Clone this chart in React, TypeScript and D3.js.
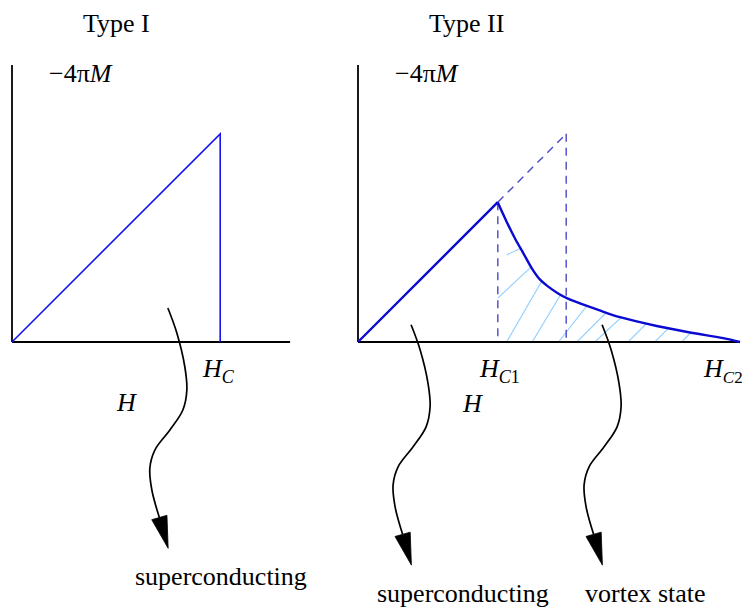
import React from "react";
import * as d3 from "d3";

// ---- data (units: field H and -4πM on the same scale) ----
const Hc = 0.545; // thermodynamic critical field (Type I and Type II)
const Hc1 = 0.366;
const Hc2 = 1.0;
const axisMaxH_I = 0.728;
const axisMaxM = 0.725;

// Type II magnetization curve in mixed (vortex) state
const vortexH = [0.366, 0.389, 0.411, 0.433, 0.455, 0.476, 0.498, 0.524, 0.548, 0.581, 0.629, 0.686, 0.782, 0.869, 0.956, 1.0];
const vortexM = [0.365, 0.315, 0.271, 0.232, 0.193, 0.164, 0.145, 0.127, 0.114, 0.101, 0.084, 0.065, 0.042, 0.025, 0.01, 0.0];

// hatch strokes: start (H, M) and angle in degrees
const hatchH = [0.389, 0.456, 0.525, 0.573, 0.62, 0.707, 0.777, 0.847, 0.366, 0.389];
const hatchM = [0, 0, 0, 0, 0, 0, 0, 0, 0.115, 0.228];
const hatchA = [60, 59, 52, 45, 43, 45, 45, 45, 43, 25];

// wavy annotation arrows: anchor (H, M) in panel units
const arrowPanel = ["I", "II", "II"];
const arrowH = [0.408, 0.139, 0.639];
const arrowM = [0.089, 0.045, 0.045];
// shape offsets (pixels) relative to the anchor
const arrowShape: [number, number][] = [
  [0, 0], [9, 25], [17, 59], [19, 82], [15, 102], [2, 122], [-13, 142], [-18, 160], [-16, 182], [-8.5, 209.5],
];
const arrowTip: [number, number] = [0.3, 240.3];

const UNIT = 382;
const xI = d3.scaleLinear().domain([0, 1]).range([12, 12 + UNIT]);
const xII = d3.scaleLinear().domain([0, 1]).range([358, 358 + UNIT]);
const y = d3.scaleLinear().domain([0, 1]).range([342, 342 - UNIT]);

const serif = "'Liberation Serif', 'Times New Roman', serif";
const FS = 26;

export default function App() {
  const pts = vortexH.map((h, i) => [h, vortexM[i]] as [number, number]);
  const curveLine = d3
    .line<[number, number]>()
    .x((d) => xII(d[0]))
    .y((d) => y(d[1]))
    .curve(d3.curveCatmullRom.alpha(0.5));
  const clipArea = d3
    .area<[number, number]>()
    .x((d) => xII(d[0]))
    .y0(y(0))
    .y1((d) => y(d[1]))
    .curve(d3.curveCatmullRom.alpha(0.5));

  const arrowLine = d3
    .line<[number, number]>()
    .x((d) => d[0])
    .y((d) => d[1])
    .curve(d3.curveCatmullRom.alpha(0.5));

  const arrows = arrowH.map((h, i) => {
    const sx = arrowPanel[i] === "I" ? xI : xII;
    const ax = sx(h);
    const ay = y(arrowM[i]);
    const p = arrowShape.map(([dx, dy]) => [ax + dx, ay + dy] as [number, number]);
    const base = p[p.length - 1];
    const tip: [number, number] = [ax + arrowTip[0], ay + arrowTip[1]];
    const vx = tip[0] - base[0];
    const vy = tip[1] - base[1];
    const len = Math.hypot(vx, vy);
    const nx = -vy / len;
    const ny = vx / len;
    const hw = 7.9;
    const head = `M${tip[0]},${tip[1]}L${base[0] + nx * hw},${base[1] + ny * hw}L${base[0] - nx * hw},${base[1] - ny * hw}Z`;
    return { d: arrowLine(p) || "", head };
  });

  const lineStyle = { fill: "none" };

  return (
    <svg
      width={745}
      height={610}
      style={{ position: "absolute", left: 0, top: 0, background: "#fff", fontFamily: serif }}
    >
      <defs>
        <clipPath id="vortexClip">
          <path d={clipArea(pts) || ""} />
        </clipPath>
      </defs>

      {/* ---------- Type I ---------- */}
      <text x={83} y={32} fontSize={FS}>Type I</text>
      <text x={49} y={82} fontSize={FS}>
        −4π<tspan fontStyle="italic">M</tspan>
      </text>
      <line x1={xI(0)} y1={y(0)} x2={xI(0)} y2={y(axisMaxM)} stroke="#000" strokeWidth={1.8} />
      <line x1={xI(0)} y1={y(0)} x2={xI(axisMaxH_I)} y2={y(0)} stroke="#000" strokeWidth={1.8} />
      <path
        d={`M${xI(0)},${y(0)}L${xI(Hc)},${y(Hc)}L${xI(Hc)},${y(0)}`}
        stroke="#1515ee"
        strokeWidth={1.6}
        style={lineStyle}
      />
      <text x={203} y={377} fontSize={FS} fontStyle="italic">
        H<tspan fontSize={18} dy={6}>C</tspan>
      </text>
      <text x={117} y={411} fontSize={FS} fontStyle="italic">H</text>
      <text x={135} y={585} fontSize={FS}>superconducting</text>

      {/* ---------- Type II ---------- */}
      <text x={429} y={32} fontSize={FS}>Type II</text>
      <text x={395} y={82} fontSize={FS}>
        −4π<tspan fontStyle="italic">M</tspan>
      </text>

      {/* hatch */}
      <g clipPath="url(#vortexClip)">
        {hatchH.map((h, i) => {
          const x0 = xII(h);
          const y0 = y(hatchM[i]);
          const a = (hatchA[i] * Math.PI) / 180;
          return (
            <line
              key={i}
              x1={x0}
              y1={y0}
              x2={x0 + Math.cos(a) * 200}
              y2={y0 - Math.sin(a) * 200}
              stroke="#8fcfff"
              strokeWidth={1.1}
            />
          );
        })}
      </g>

      {/* dashed construction lines */}
      <g stroke="#4a4ac8" strokeWidth={1.4} strokeDasharray="8,6" style={lineStyle}>
        <line x1={xII(Hc1)} y1={y(Hc1)} x2={xII(Hc)} y2={y(Hc)} />
        <line x1={xII(Hc1)} y1={y(Hc1)} x2={xII(Hc1)} y2={y(0)} />
        <line x1={xII(Hc)} y1={y(Hc)} x2={xII(Hc)} y2={y(0)} />
      </g>

      <line x1={xII(0)} y1={y(0)} x2={xII(0)} y2={y(axisMaxM)} stroke="#000" strokeWidth={1.8} />
      <line x1={xII(0)} y1={y(0)} x2={xII(Hc2)} y2={y(0)} stroke="#000" strokeWidth={1.8} />

      <line x1={xII(0)} y1={y(0)} x2={xII(Hc1)} y2={y(Hc1)} stroke="#0a0ad0" strokeWidth={2.4} />
      <path d={curveLine(pts) || ""} stroke="#0a0ad0" strokeWidth={2.4} style={lineStyle} />

      <text x={480} y={377} fontSize={FS} fontStyle="italic">
        H<tspan fontSize={18} dy={6}>C</tspan>
        <tspan fontStyle="normal" fontSize={18}>1</tspan>
      </text>
      <text x={704} y={377} fontSize={FS} fontStyle="italic">
        H<tspan fontSize={17} dy={6}>C</tspan>
        <tspan fontStyle="normal" fontSize={17}>2</tspan>
      </text>
      <text x={463} y={412} fontSize={FS} fontStyle="italic">H</text>
      <text x={377} y={602} fontSize={FS}>superconducting</text>
      <text x={585} y={602} fontSize={FS}>vortex state</text>

      {/* arrows */}
      {arrows.map((a, i) => (
        <g key={i}>
          <path d={a.d} stroke="#000" strokeWidth={1.7} fill="none" />
          <path d={a.head} fill="#000" stroke="#000" strokeWidth={0.8} />
        </g>
      ))}
    </svg>
  );
}
